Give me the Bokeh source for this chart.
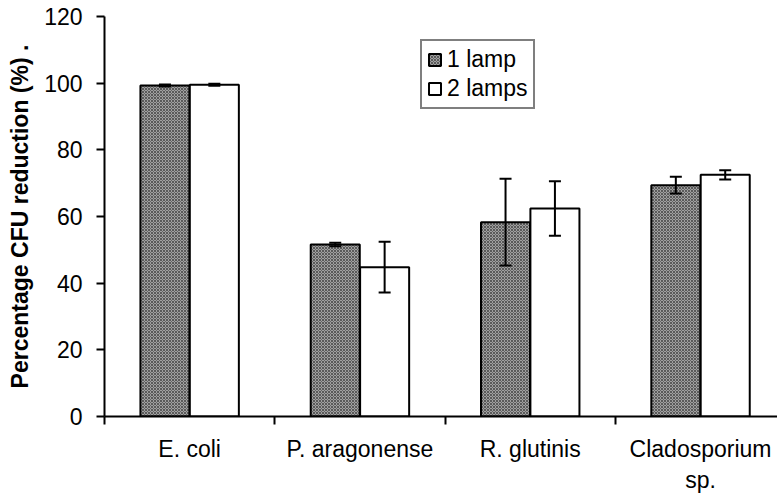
from bokeh.plotting import figure
from bokeh.models import ColumnDataSource, Whisker, TeeHead, FixedTicker, Range1d, Legend, LegendItem
from bokeh.embed import file_html
from bokeh.resources import INLINE

categories = ["E. coli", "P. aragonense", "R. glutinis", "Cladosporium\nsp."]
lamp1 = [99.3, 51.6, 58.3, 69.4]
lamp1_err = [0.3, 0.5, 13.0, 2.5]
lamp2 = [99.5, 44.8, 62.4, 72.5]
lamp2_err = [0.3, 7.6, 8.2, 1.4]
series_names = ["1 lamp", "2 lamps"]
y_ticks = [0, 20, 40, 60, 80, 100, 120]

FONT = "Liberation Sans"
offset = 0.145
bw = 0.288

centers = [i + 0.5 for i in range(len(categories))]
src1 = ColumnDataSource(dict(
    x=[c - offset for c in centers], top=lamp1,
    upper=[v + e for v, e in zip(lamp1, lamp1_err)],
    lower=[v - e for v, e in zip(lamp1, lamp1_err)]))
src2 = ColumnDataSource(dict(
    x=[c + offset for c in centers], top=lamp2,
    upper=[v + e for v, e in zip(lamp2, lamp2_err)],
    lower=[v - e for v, e in zip(lamp2, lamp2_err)]))

p = figure(width=777, height=495, output_backend="svg", toolbar_location=None,
           x_range=Range1d(0, 3.952), y_range=Range1d(0, 120),
           min_border_left=104, min_border_top=16, min_border_bottom=78, min_border_right=0)
p.outline_line_color = None
p.xgrid.visible = False
p.ygrid.visible = False
p.background_fill_color = "white"
p.border_fill_color = "white"

r1 = p.vbar(x="x", top="top", width=bw, bottom=0, source=src1,
            fill_color="#a0a0a0", line_color="black", line_width=2,
            hatch_pattern="diagonal_cross", hatch_color="#5a5a5a", hatch_scale=3, hatch_weight=1)
r2 = p.vbar(x="x", top="top", width=bw, bottom=0, source=src2,
            fill_color="white", line_color="black", line_width=2)

for src in (src1, src2):
    w = Whisker(base="x", upper="upper", lower="lower", source=src,
                line_color="black", line_width=2, level="overlay",
                upper_head=TeeHead(size=12, line_width=2, line_color="black"),
                lower_head=TeeHead(size=12, line_width=2, line_color="black"))
    p.add_layout(w)

# x axis
xa = p.xaxis[0]
xa.ticker = FixedTicker(ticks=centers, minor_ticks=[0, 1, 2, 3, 4])
xa.major_label_overrides = {c: lab for c, lab in zip(centers, categories)}
xa.major_tick_out = 0
xa.major_tick_in = 0
xa.minor_tick_out = 8
xa.minor_tick_in = 0
xa.minor_tick_line_color = "black"
xa.minor_tick_line_width = 2
xa.axis_line_width = 2
xa.axis_line_color = "black"
xa.major_label_text_font = FONT
xa.major_label_text_font_size = "23px"
xa.major_label_text_color = "black"
xa.major_label_standoff = 11

# y axis
ya = p.yaxis[0]
ya.ticker = FixedTicker(ticks=y_ticks, minor_ticks=[])
ya.major_tick_out = 8
ya.major_tick_in = 0
ya.major_tick_line_width = 2
ya.axis_line_width = 2
ya.axis_line_color = "black"
ya.major_label_text_font = FONT
ya.major_label_text_font_size = "23px"
ya.major_label_text_color = "black"
ya.major_label_standoff = 14
ya.axis_label = "Percentage CFU reduction (%) ."
ya.axis_label_text_font = FONT
ya.axis_label_text_font_size = "23px"
ya.axis_label_text_font_style = "bold"
ya.axis_label_text_color = "black"
ya.axis_label_standoff = 8

legend = Legend(items=[LegendItem(label=series_names[0], renderers=[r1]),
                       LegendItem(label=series_names[1], renderers=[r2])],
                location=(316, 307), orientation="vertical",
                glyph_width=15, glyph_height=15, label_height=26,
                label_standoff=5, spacing=2, padding=5, margin=0,
                border_line_color="black", border_line_width=2,
                label_text_font=FONT, label_text_font_size="23px",
                label_text_color="black", background_fill_alpha=1)
p.add_layout(legend)

open("out.html", "w").write(file_html(p, INLINE))
